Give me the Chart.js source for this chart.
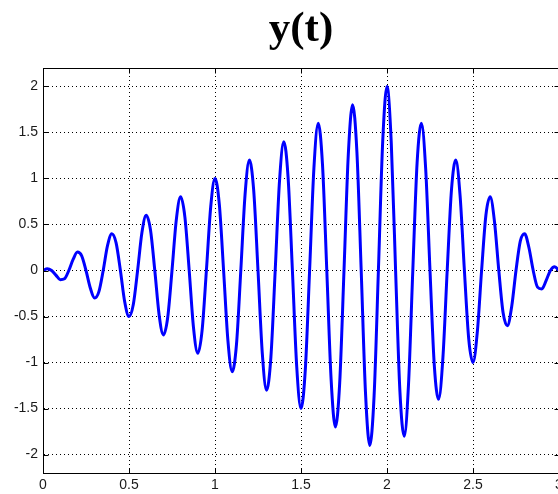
<!DOCTYPE html>
<html>
<head>
<meta charset="utf-8">
<script src="https://cdn.jsdelivr.net/npm/chart.js@4"></script>
<style>
  html, body { margin: 0; padding: 0; background: #fff; overflow: hidden; }
  #chart { display: block; }
</style>
</head>
<body>
<canvas id="chart" width="563" height="494"></canvas>
<script>
const tStep = 0.025;
const yValues = [
  0, 0.02, 0, -0.05, -0.1, -0.09, 0, 0.12,
  0.2, 0.16, 0, -0.19, -0.3, -0.23, 0, 0.27,
  0.4, 0.30, 0, -0.34, -0.5, -0.37, 0, 0.41,
  0.6, 0.44, 0, -0.48, -0.7, -0.51, 0, 0.55,
  0.8, 0.58, 0, -0.62, -0.9, -0.65, 0, 0.69,
  1.0, 0.72, 0, -0.76, -1.1, -0.80, 0, 0.83,
  1.2, 0.87, 0, -0.90, -1.3, -0.94, 0, 0.97,
  1.4, 1.01, 0, -1.04, -1.5, -1.08, 0, 1.11,
  1.6, 1.15, 0, -1.18, -1.7, -1.22, 0, 1.26,
  1.8, 1.29, 0, -1.33, -1.9, -1.36, 0, 1.40,
  2.0, 1.38, 0, -1.31, -1.8, -1.24, 0, 1.17,
  1.6, 1.10, 0, -1.03, -1.4, -0.95, 0, 0.88,
  1.2, 0.81, 0, -0.74, -1.0, -0.67, 0, 0.60,
  0.8, 0.53, 0, -0.46, -0.6, -0.39, 0, 0.32,
  0.4, 0.25, 0, -0.18, -0.2, -0.11, 0, 0.04,
  0
];
const tValues = yValues.map((_, i) => +(i * tStep).toFixed(3));

const xTicks = [0, 0.5, 1, 1.5, 2, 2.5, 3];
const yTicks = [-2, -1.5, -1, -0.5, 0, 0.5, 1, 1.5, 2];

const points = tValues.map((t, i) => ({ x: t, y: yValues[i] }));

// matlab style box with inward tick marks on all four sides
const framePlugin = {
  id: 'frame',
  afterDatasetsDraw(chart) {
    const { ctx, chartArea: a, scales: { x, y } } = chart;
    const L = Math.round(a.left) + 0.5, R = Math.round(a.right) + 0.5;
    const T = Math.round(a.top) + 0.5, B = Math.round(a.bottom) + 0.5;
    const len = 5;
    ctx.save();
    ctx.strokeStyle = '#000';
    ctx.lineWidth = 1;
    ctx.strokeRect(L, T, R - L, B - T);
    ctx.beginPath();
    xTicks.forEach(v => {
      const px = Math.round(x.getPixelForValue(v)) + 0.5;
      ctx.moveTo(px, B); ctx.lineTo(px, B - len);
      ctx.moveTo(px, T); ctx.lineTo(px, T + len);
    });
    yTicks.forEach(v => {
      const py = Math.round(y.getPixelForValue(v)) + 0.5;
      ctx.moveTo(L, py); ctx.lineTo(L + len, py);
      ctx.moveTo(R, py); ctx.lineTo(R - len, py);
    });
    ctx.stroke();
    ctx.restore();
  }
};

const tickFont = { family: '"Liberation Sans", Arial, sans-serif', size: 14 };
const plainLabel = v => String(v);

new Chart(document.getElementById('chart'), {
  type: 'line',
  data: {
    datasets: [{
      data: points,
      borderColor: '#0000ff',
      borderWidth: 3,
      pointRadius: 0,
      fill: false,
      cubicInterpolationMode: 'monotone'
    }]
  },
  options: {
    responsive: false,
    devicePixelRatio: 1,
    animation: false,
    layout: { padding: { left: 0, right: 4, top: 0, bottom: 0 } },
    plugins: {
      legend: { display: false },
      tooltip: { enabled: false },
      title: {
        display: true,
        text: 'y(t)',
        fullSize: false,
        color: '#000',
        font: { family: '"Liberation Serif", "Times New Roman", serif', size: 43, weight: 'bold', lineHeight: 1 },
        padding: { top: 8, bottom: 17 }
      }
    },
    scales: {
      x: {
        type: 'linear',
        min: 0,
        max: 3,
        afterBuildTicks: s => { s.ticks = xTicks.map(v => ({ value: v })); },
        afterFit: s => { s.height = 21; s.paddingLeft = 0; s.paddingRight = 0; },
        ticks: { color: '#1a1a1a', font: tickFont, padding: 4, maxRotation: 0, callback: plainLabel },
        grid: { color: '#000', lineWidth: 1, drawTicks: false },
        border: { display: true, color: '#000', dash: [1, 3] }
      },
      y: {
        min: -2.2,
        max: 2.2,
        afterBuildTicks: s => { s.ticks = yTicks.map(v => ({ value: v })); },
        afterFit: s => { s.width = 43; s.paddingTop = 0; s.paddingBottom = 0; },
        ticks: { color: '#1a1a1a', font: tickFont, padding: 5, callback: plainLabel },
        grid: { color: '#000', lineWidth: 1, drawTicks: false },
        border: { display: true, color: '#000', dash: [1, 3] }
      }
    }
  },
  plugins: [framePlugin]
});
</script>
</body>
</html>
